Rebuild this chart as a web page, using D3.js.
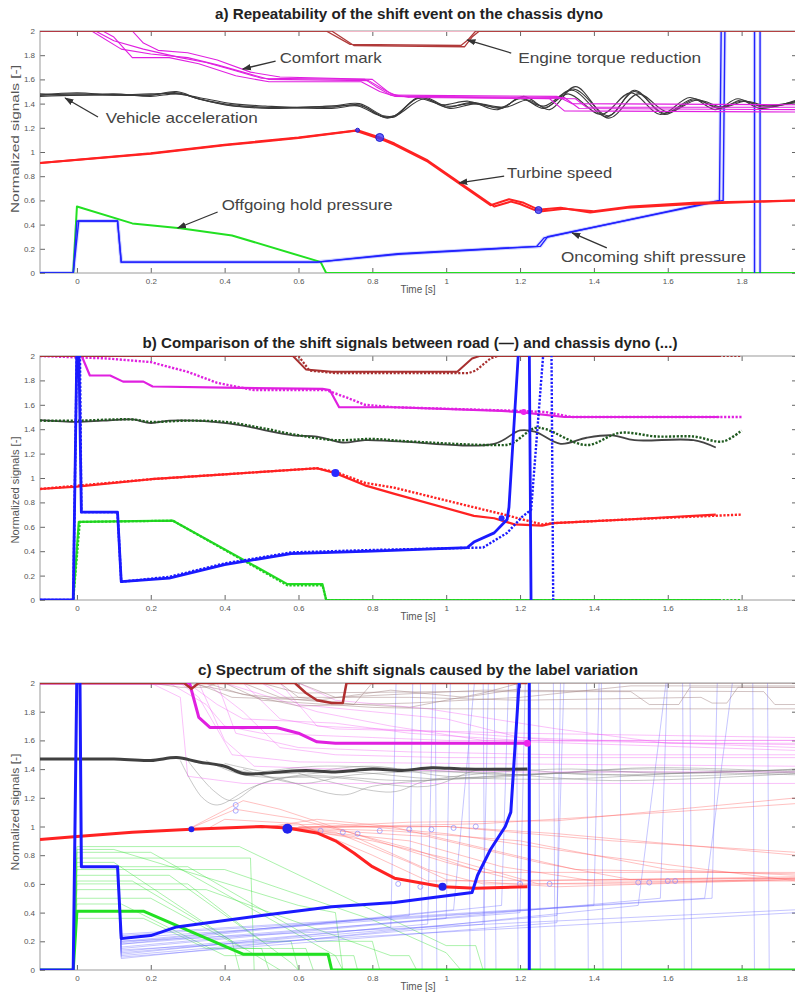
<!DOCTYPE html>
<html>
<head>
<meta charset="utf-8">
<script src="https://cdn.jsdelivr.net/npm/d3@7"></script>
<style>
  body { margin: 0; background: #fff; }
  text { font-family: "Liberation Sans", Arial, sans-serif; }
  .title { font-family: "Liberation Sans Narrow", "Liberation Sans", sans-serif; font-weight: bold; font-size: 14px; fill: #222; }
  .tick text { font-size: 8px; fill: #555; }
  .tick line { stroke: #666; }
  .note { font-size: 15px; fill: #444; }
  .axis-label { font-size: 10px; fill: #555; }
</style>
</head>
<body>
<svg width="795" height="998"></svg>
<script>
const svg = d3.select("svg");

// ---- ticks ----
const xTicks = [0, 0.2, 0.4, 0.6, 0.8, 1, 1.2, 1.4, 1.6, 1.8];
const yTicks = [0, 0.2, 0.4, 0.6, 0.8, 1, 1.2, 1.4, 1.6, 1.8, 2];

// ---- a) repeatability: several runs of each signal [time, value] ----
const comfA1 = [[-0.1,2],[0.05,2],[0.1,1.92],[0.18,1.85],[0.28,1.78],[0.35,1.74],[0.42,1.68],[0.5,1.61],[0.78,1.6],[0.81,1.54],[0.85,1.47],[1.3,1.46],[1.34,1.4],[1.95,1.39]];
const comfA2 = [[-0.1,2],[0.04,2],[0.12,1.85],[0.2,1.81],[0.3,1.78],[0.38,1.72],[0.45,1.66],[0.52,1.6],[0.79,1.59],[0.84,1.5],[0.87,1.46],[1.32,1.45],[1.36,1.36],[1.95,1.35]];
const comfA3 = [[-0.1,2],[0.07,2],[0.1,1.95],[0.15,1.78],[0.25,1.78],[0.33,1.73],[0.43,1.63],[0.52,1.58],[0.77,1.58],[0.82,1.5],[0.86,1.46],[1.28,1.44],[1.32,1.34],[1.95,1.33]];
const comfA4 = [[-0.1,2],[0.15,2],[0.18,1.9],[0.22,1.84],[0.3,1.82],[0.38,1.76],[0.47,1.66],[0.55,1.62],[0.8,1.6],[0.85,1.48],[0.9,1.45],[1.35,1.44],[1.38,1.37],[1.95,1.37]];

const torqA1 = [[-0.1,2],[0.675,2],[0.74,1.89],[1.04,1.88],[1.06,1.93],[1.08,2],[1.95,2]];
const torqA2 = [[-0.1,2],[0.69,2],[0.75,1.88],[1.05,1.87],[1.07,1.95],[1.09,2],[1.95,2]];

const accA1 = [[-0.1,1.47],[0,1.48],[0.1,1.475],[0.2,1.47],[0.27,1.49],[0.33,1.44],[0.42,1.39],[0.51,1.37],[0.69,1.37],[0.765,1.39],[0.83,1.29],[0.86,1.3],[0.93,1.45],[1,1.37],[1.07,1.41],[1.15,1.36],[1.2,1.45],[1.265,1.36],[1.34,1.51],[1.435,1.29],[1.51,1.5],[1.59,1.32],[1.67,1.44],[1.74,1.36],[1.8,1.43],[1.86,1.37],[1.95,1.42]];
const accA2 = [[-0.1,1.48],[0,1.47],[0.1,1.48],[0.2,1.46],[0.27,1.48],[0.33,1.45],[0.42,1.4],[0.51,1.38],[0.69,1.36],[0.76,1.38],[0.82,1.3],[0.86,1.29],[0.92,1.44],[0.99,1.39],[1.06,1.42],[1.14,1.35],[1.21,1.46],[1.28,1.35],[1.35,1.54],[1.44,1.28],[1.52,1.48],[1.6,1.33],[1.68,1.43],[1.75,1.37],[1.81,1.42],[1.87,1.38],[1.95,1.41]];
const accA3 = [[-0.1,1.46],[0,1.47],[0.1,1.47],[0.2,1.48],[0.28,1.48],[0.34,1.43],[0.43,1.38],[0.52,1.36],[0.7,1.38],[0.77,1.38],[0.84,1.28],[0.87,1.31],[0.94,1.44],[1.01,1.36],[1.08,1.4],[1.16,1.37],[1.22,1.43],[1.27,1.37],[1.33,1.48],[1.42,1.31],[1.5,1.49],[1.58,1.31],[1.66,1.45],[1.73,1.35],[1.79,1.44],[1.85,1.36],[1.95,1.43]];
const accA4 = [[-0.1,1.47],[0,1.49],[0.1,1.47],[0.2,1.47],[0.27,1.5],[0.33,1.44],[0.42,1.38],[0.51,1.37],[0.69,1.38],[0.765,1.4],[0.83,1.3],[0.86,1.3],[0.93,1.46],[1,1.38],[1.07,1.4],[1.15,1.37],[1.2,1.44],[1.265,1.38],[1.345,1.52],[1.44,1.3],[1.51,1.51],[1.59,1.31],[1.67,1.43],[1.74,1.37],[1.8,1.42],[1.86,1.38],[1.95,1.42]];

const turbA1 = [[-0.1,0.91],[0.2,0.99],[0.4,1.06],[0.6,1.12],[0.76,1.18],[0.82,1.12],[0.86,1.07],[0.95,0.93],[1.13,0.55],[1.175,0.59],[1.2,0.57],[1.24,0.52],[1.31,0.54],[1.39,0.5],[1.49,0.54],[1.67,0.57],[1.95,0.6]];
const turbA2 = [[-0.1,0.91],[0.2,0.985],[0.4,1.055],[0.6,1.115],[0.755,1.175],[0.82,1.11],[0.86,1.06],[0.95,0.92],[1.12,0.56],[1.17,0.61],[1.21,0.58],[1.26,0.51],[1.32,0.53],[1.4,0.51],[1.5,0.55],[1.67,0.58],[1.95,0.6]];

const oncA1 = [[-0.1,0],[-0.01,0],[0,0.43],[0.11,0.43],[0.12,0.09],[0.65,0.09],[0.87,0.16],[1.245,0.22],[1.265,0.29],[1.74,0.6],[1.745,2.1],[1.835,2.1],[1.835,-0.1]];
const oncA2 = [[-0.1,0],[-0.01,0],[0.005,0.43],[0.11,0.43],[0.12,0.09],[0.65,0.09],[0.87,0.155],[1.255,0.22],[1.275,0.3],[1.75,0.6],[1.755,2.1],[1.85,2.1],[1.85,-0.1]];

const offA = [[-0.1,0],[-0.01,0],[0,0.55],[0.15,0.41],[0.28,0.37],[0.42,0.31],[0.65,0.1],[0.66,0.09],[0.675,0],[1.95,0]];

const markA = [[0.76,1.18,2],[0.82,1.12,4],[1.25,0.52,3.5]];

// annotations: label, text anchor [t, v], arrow tail, arrow tip, text width
const notesA = [
  ["Comfort mark", [0.549,1.777], [0.538,1.752], [0.449,1.686], 102],
  ["Engine torque reduction", [1.195,1.777], [1.176,1.818], [1.057,1.926], 183],
  ["Vehicle acceleration", [0.078,1.281], [0.057,1.289], [-0.032,1.446], 152],
  ["Turbine speed", [1.165,0.826], [1.157,0.8], [1.035,0.744], 105],
  ["Offgoing hold pressure", [0.392,0.562], [0.381,0.504], [0.273,0.372], 171],
  ["Oncoming shift pressure", [1.311,0.132], [1.435,0.207], [1.341,0.331], 185]
];

// ---- b) road (solid) vs chassis dyno (dotted) ----
const comfRoad = [[-0.1,2],[0.013,2],[0.035,1.84],[0.09,1.84],[0.125,1.79],[0.18,1.79],[0.205,1.75],[0.4,1.74],[0.665,1.73],[0.685,1.72],[0.71,1.58],[0.86,1.58],[1.15,1.55],[1.2,1.54],[1.32,1.5],[1.74,1.5]];
const comfDyno = [[-0.1,2],[0.08,1.98],[0.2,1.95],[0.3,1.87],[0.38,1.78],[0.48,1.72],[0.675,1.72],[0.73,1.66],[0.78,1.6],[0.86,1.58],[1.2,1.55],[1.27,1.54],[1.34,1.5],[1.8,1.5]];
const torqRoad = [[-0.1,2],[0.585,2],[0.62,1.89],[0.69,1.87],[1.03,1.87],[1.07,1.98],[1.09,2],[1.74,2]];
const torqDyno = [[-0.1,2],[0.6,2],[0.63,1.88],[0.7,1.86],[1.06,1.86],[1.08,1.88],[1.12,1.98],[1.14,2],[1.8,2]];
const accRoad = [[-0.1,1.475],[0,1.46],[0.07,1.47],[0.15,1.48],[0.2,1.45],[0.25,1.47],[0.37,1.46],[0.45,1.43],[0.51,1.39],[0.585,1.35],[0.65,1.34],[0.72,1.29],[0.78,1.31],[0.87,1.3],[1.13,1.28],[1.2,1.39],[1.24,1.38],[1.31,1.28],[1.38,1.33],[1.45,1.35],[1.51,1.31],[1.67,1.31],[1.73,1.25]];
const accDyno = [[-0.1,1.47],[0,1.47],[0.15,1.48],[0.2,1.46],[0.3,1.47],[0.4,1.46],[0.5,1.41],[0.6,1.35],[0.7,1.31],[0.8,1.32],[0.9,1.3],[1.13,1.27],[1.175,1.28],[1.24,1.41],[1.27,1.4],[1.38,1.27],[1.47,1.37],[1.57,1.34],[1.67,1.34],[1.75,1.3],[1.8,1.39]];
const turbRoad = [[-0.1,0.91],[0,0.93],[0.2,0.99],[0.4,1.03],[0.65,1.08],[0.7,1.04],[0.78,0.94],[0.86,0.87],[1.075,0.69],[1.13,0.67],[1.185,0.62],[1.26,0.61],[1.29,0.63],[1.49,0.66],[1.73,0.7]];
const turbDyno = [[-0.1,0.91],[0.2,0.99],[0.4,1.03],[0.65,1.08],[0.7,1.05],[0.78,0.96],[0.86,0.92],[1.075,0.76],[1.157,0.7],[1.22,0.65],[1.26,0.62],[1.29,0.63],[1.49,0.66],[1.8,0.7]];
const oncRoad = [[-0.1,0],[-0.01,0],[0,2.1],[0.005,2.1],[0.012,0.72],[0.11,0.72],[0.12,0.15],[0.25,0.18],[0.4,0.29],[0.58,0.38],[0.8,0.4],[1.057,0.43],[1.075,0.475],[1.13,0.55],[1.165,0.66],[1.17,0.76],[1.197,2.1],[1.225,2.1],[1.23,-0.1]];
const oncDyno = [[-0.1,0],[-0.01,0],[0,2.1],[0.008,2.1],[0.012,0.72],[0.11,0.72],[0.12,0.15],[0.25,0.19],[0.4,0.3],[0.58,0.39],[0.8,0.41],[1.1,0.43],[1.165,0.55],[1.205,0.68],[1.23,0.74],[1.265,2.1],[1.285,2.1],[1.29,-0.1]];
const offRoad = [[-0.1,0],[-0.01,0],[0.005,0.64],[0.26,0.65],[0.57,0.13],[0.665,0.13],[0.675,0],[1.74,0]];
const offDyno = [[-0.1,0],[-0.01,0],[0.008,0.64],[0.26,0.65],[0.57,0.12],[0.665,0.12],[0.675,0],[1.8,0]];
const markB = [[0.7,1.04,4,"#2a2aff"],[1.15,0.67,3,"#2a2aff"],[1.21,1.54,3,"#ee22ee"]];

// ---- c) spectrum caused by label variation ----
const torqC = [[-0.1,2],[0.29,2],[0.31,1.96],[0.33,2],[0.59,2],[0.62,1.93],[0.65,1.88],[0.69,1.86],[0.72,1.86],[0.73,2],[1.22,2]];
const comfC = [[-0.1,2],[0.305,2],[0.33,1.76],[0.36,1.69],[0.54,1.69],[0.6,1.65],[0.65,1.59],[0.7,1.58],[1.22,1.58]];
const accC = [[-0.1,1.47],[0,1.47],[0.1,1.47],[0.2,1.46],[0.27,1.48],[0.33,1.45],[0.4,1.42],[0.45,1.37],[0.5,1.37],[0.55,1.38],[0.62,1.39],[0.7,1.38],[0.8,1.4],[0.88,1.39],[0.96,1.41],[1.05,1.4],[1.22,1.4]];
const turbC = [[-0.1,0.91],[0,0.93],[0.15,0.96],[0.31,0.98],[0.5,1],[0.57,0.99],[0.65,0.955],[0.7,0.9],[0.75,0.815],[0.8,0.72],[0.86,0.64],[0.99,0.58],[1.08,0.57],[1.22,0.58]];
const oncC = [[-0.1,0],[-0.01,0],[0,2.1],[0.008,2.1],[0.012,0.72],[0.11,0.72],[0.12,0.22],[0.2,0.24],[0.27,0.3],[0.5,0.38],[0.69,0.44],[0.86,0.47],[1.07,0.54],[1.085,0.66],[1.12,0.84],[1.16,1],[1.175,1.1],[1.2,2.1],[1.225,2.1],[1.225,-0.1]];
const offC = [[-0.1,0],[-0.01,0],[0,0.41],[0.18,0.41],[0.45,0.11],[0.68,0.11],[0.69,0],[1.95,0]];
const markC = [[0.31,0.98,3,"#2222ee"],[0.57,0.985,5,"#2222ee"],[0.99,0.58,4,"#2222ee"],[1.22,1.58,3.5,"#ee22ee"]];
const markCLight = [[0.43,1.15],[0.43,1.11],[0.66,0.97],[0.72,0.96],[0.76,0.95],[0.82,0.97],[0.9,0.98],[0.96,0.98],[1.02,0.99],[1.08,1],[0.87,0.6],[0.93,0.58],[1.2,0.6],[1.28,0.6],[1.52,0.61],[1.55,0.61],[1.6,0.62],[1.62,0.62]];

const specBrown = [
  [[-0.1,2],[0.55,2],[0.6,1.9],[0.75,1.85],[0.8,2],[1.95,2]],
  [[0.35,2],[0.45,1.92],[0.7,1.86],[0.9,1.83],[1.1,1.93],[1.2,2]],
  [[0.4,2],[0.5,1.88],[0.8,1.83],[1,1.82],[1.3,1.82],[1.95,1.82]],
  [[0.5,2],[0.6,1.93],[1,1.94],[1.5,1.94],[1.55,1.85],[1.63,1.85],[1.66,1.97],[1.95,1.97]],
  [[0.45,2],[0.55,1.9],[0.9,1.9],[1.2,1.88],[1.69,1.9],[1.72,1.86],[1.76,1.86],[1.79,1.97],[1.95,1.97]],
  [[0.6,2],[0.7,1.9],[1.1,1.95],[1.86,1.94],[1.89,1.85],[1.95,1.85]],
  [[0.3,2],[0.4,1.95],[0.6,1.84],[0.9,1.86],[1.2,1.9],[1.5,1.98],[1.95,1.98]],
  [[0.2,2],[0.28,1.97],[0.35,1.97],[0.38,2],[1.95,2]],
  [[0.32,2],[0.42,1.9],[0.65,1.88],[0.85,1.95],[1.05,1.9],[1.2,1.96]]
];
const specPink = [
  [[-0.1,2],[0.2,2],[0.28,1.9],[0.3,1.35],[0.45,1.3],[1.95,1.3]],
  [[0.25,2],[0.35,1.85],[0.4,1.7],[0.5,1.65],[0.8,1.62],[1,1.6],[1.95,1.6]],
  [[0.3,2],[0.38,1.85],[0.45,1.75],[0.7,1.72],[0.9,1.65],[1.2,1.6],[1.95,1.57]],
  [[0.35,2],[0.45,1.8],[0.55,1.55],[0.7,1.5],[1,1.48],[1.95,1.48]],
  [[0.4,2],[0.5,1.92],[0.65,1.8],[0.85,1.7],[1.1,1.6],[1.95,1.53]],
  [[0.33,2],[0.4,1.6],[0.48,1.42],[0.7,1.4],[1.2,1.38],[1.95,1.38]],
  [[0.45,2],[0.55,1.75],[0.7,1.68],[1,1.66],[1.3,1.6],[1.95,1.6]],
  [[0.5,2],[0.6,1.85],[0.8,1.8],[1,1.75],[1.2,1.62],[1.95,1.55]],
  [[0.28,2],[0.33,1.9],[0.42,1.5],[0.6,1.45],[1,1.44],[1.95,1.42]],
  [[0.6,2],[0.7,1.88],[0.95,1.82],[1.3,1.68],[1.6,1.58],[1.95,1.58]],
  [[0.38,2],[0.43,1.65],[0.6,1.55],[0.9,1.52],[1.3,1.5],[1.95,1.5]],
  [[0.55,2],[0.65,1.7],[0.9,1.67],[1.2,1.65],[1.95,1.62]]
];
const specGray = [
  [[0.28,1.46],[0.34,1.2],[0.38,1.15],[0.48,1.28],[0.6,1.35],[0.9,1.32],[1.3,1.37],[1.6,1.35],[1.95,1.38]],
  [[0.3,1.46],[0.37,1.25],[0.42,1.18],[0.5,1.3],[0.7,1.38],[1,1.33],[1.5,1.4],[1.95,1.37]],
  [[0.35,1.46],[0.45,1.36],[0.7,1.34],[0.95,1.28],[1.1,1.4],[1.4,1.36],[1.95,1.4]],
  [[0.4,1.44],[0.55,1.37],[0.8,1.42],[1,1.35],[1.3,1.33],[1.7,1.38],[1.95,1.39]],
  [[0.45,1.4],[0.6,1.3],[0.75,1.36],[1.05,1.38],[1.45,1.32],[1.95,1.37]],
  [[0.5,1.38],[0.65,1.42],[0.9,1.4],[1.2,1.36],[1.55,1.41],[1.95,1.38]],
  [[0.42,1.4],[0.55,1.33],[0.72,1.22],[0.8,1.28],[1,1.33],[1.4,1.38],[1.95,1.36]],
  [[0.6,1.37],[0.85,1.24],[0.95,1.32],[1.3,1.4],[1.6,1.37],[1.95,1.4]]
];
const specRed = [
  [[0.3,0.98],[0.45,1.18],[0.55,1.12],[0.75,0.95],[1,0.75],[1.2,0.62],[1.95,0.65]],
  [[0.3,0.98],[0.43,1.12],[0.6,1.05],[0.9,0.85],[1.1,0.68],[1.95,0.68]],
  [[0.57,0.99],[0.8,0.9],[1,0.78],[1.25,0.6],[1.95,0.63]],
  [[0.57,0.99],[0.9,1.03],[1.3,1.04],[1.95,1.2]],
  [[0.57,0.99],[1,1],[1.3,0.95],[1.95,0.8]],
  [[0.57,0.99],[0.85,0.97],[1.2,0.9],[1.6,0.7],[1.95,0.66]],
  [[0.45,1],[0.7,1.02],[1,0.95],[1.4,0.8],[1.95,0.62]],
  [[0.5,1],[0.75,0.93],[0.95,0.7],[1.1,0.6],[1.5,0.6],[1.95,0.64]],
  [[0.57,0.99],[0.7,0.96],[0.9,0.75],[1,0.63],[1.3,0.58],[1.95,0.63]],
  [[0.6,1],[1,1],[1.45,0.9],[1.95,0.82]],
  [[0.57,0.99],[0.95,0.93],[1.25,0.75],[1.5,0.63],[1.95,0.64]],
  [[0.5,0.99],[0.65,1.05],[0.85,1],[1.1,0.85],[1.35,0.7],[1.95,0.67]],
  [[0.35,0.98],[0.4,1.05],[0.6,1.02],[0.8,0.8],[0.95,0.62],[1.95,0.64]],
  [[0.57,0.99],[1.1,1.02],[1.6,1.1],[1.95,1.16]],
  [[0.6,0.98],[0.9,0.9],[1.15,0.72],[1.4,0.62],[1.95,0.62]]
];
const specGreen = [
  [[-0.01,0],[0,0.86],[0.44,0.86],[1,0.17],[1.08,0.17],[1.1,0]],
  [[-0.01,0],[0,0.82],[0.2,0.82],[0.7,0.1],[0.75,0.1],[0.76,0]],
  [[-0.01,0],[0,0.78],[0.47,0.78],[0.48,0]],
  [[-0.01,0],[0,0.72],[0.3,0.72],[0.65,0.2],[0.8,0.2],[0.82,0]],
  [[-0.01,0],[0,0.66],[0.25,0.66],[0.5,0.2],[0.58,0.2],[0.6,0]],
  [[-0.01,0],[0,0.62],[0.15,0.62],[0.55,0]],
  [[-0.01,0],[0,0.56],[0.35,0.56],[0.85,0.1],[0.9,0.1],[0.92,0]],
  [[-0.01,0],[0,0.5],[0.2,0.5],[0.45,0.15],[0.5,0.15],[0.52,0]],
  [[-0.01,0],[0,0.46],[0.12,0.46],[0.4,0.1],[0.7,0.1],[0.72,0]],
  [[-0.01,0],[0,0.36],[0.18,0.36],[0.35,0.15],[0.62,0.15],[0.64,0]],
  [[-0.01,0],[0,0.7],[0.4,0.7],[0.8,0.35],[1,0.12],[1.04,0]],
  [[-0.01,0],[0,0.6],[0.3,0.6],[0.45,0.3],[0.58,0.05],[0.6,0]],
  [[-0.01,0],[0,0.84],[0.1,0.84],[0.6,0.45],[0.7,0.4],[0.72,0]],
  [[-0.01,0],[0,0.75],[0.1,0.75],[0.42,0.2],[0.44,0]]
];
const specBlue = [
  [[0.11,0.72],[0.12,0.2],[0.9,0.38],[0.91,2.1],[0.97,2.1],[0.975,-0.1]],
  [[0.11,0.72],[0.12,0.15],[1,0.36],[1.012,2.1],[1.1,2.1],[1.105,-0.1]],
  [[0.11,0.72],[0.12,0.1],[1.1,0.32],[1.115,2.1],[1.19,2.1],[1.195,-0.1]],
  [[0.11,0.72],[0.12,0.18],[1.2,0.4],[1.215,2.1],[1.29,2.1],[1.295,-0.1]],
  [[0.11,0.72],[0.12,0.12],[1.3,0.38],[1.32,2.1],[1.42,2.1],[1.425,-0.1]],
  [[0.11,0.72],[0.12,0.22],[1.4,0.45],[1.415,2.1],[1.47,2.1],[1.475,-0.1]],
  [[0.11,0.72],[0.12,0.08],[1.52,0.45],[1.6,2.1],[1.66,2.1],[1.665,-0.1]],
  [[0.11,0.72],[0.12,0.16],[1.58,0.5],[1.6,2.1],[1.64,2.1],[1.645,-0.1]],
  [[0.11,0.72],[0.12,0.25],[1.7,0.5],[1.78,2.1],[1.83,2.1],[1.835,-0.1]],
  [[0.11,0.72],[0.12,0.14],[1.95,0.4]],
  [[0.11,0.72],[0.12,0.2],[1.95,0.42]],
  [[0.11,0.72],[0.12,0.11],[0.85,0.3],[0.865,2.1],[0.93,2.1],[0.935,-0.1]],
  [[0.11,0.72],[0.12,0.18],[1.15,0.45],[1.17,2.1],[1.25,2.1],[1.255,-0.1]],
  [[0.11,0.72],[0.12,0.24],[1.72,0.5],[1.735,2.1],[1.87,2.1],[1.875,-0.1]],
  [[0.11,0.72],[0.12,0.13],[0.95,0.32],[0.965,2.1],[1.06,2.1],[1.065,-0.1]],
  [[0.11,0.72],[0.12,0.09],[1.3,0.33],[1.31,2.1],[1.38,2.1],[1.385,-0.1]],
  [[0.11,0.72],[0.12,0.19],[1.02,0.42],[1.08,2.1],[1.13,2.1],[1.135,-0.1]]
];

// ---- layout ----
const x = d3.scaleLinear().domain([-0.1, 1.95]).range([40, 797]);
const panels = {
  a: { top: 31, bottom: 273, title: "a) Repeatability of the shift event on the chassis dyno", titleX: 409, titleY: 14, titleW: 388, labelY: 139, labelW: 148 },
  b: { top: 356, bottom: 600, title: "b) Comparison of the shift signals between road (\u2014) and chassis dyno (...)", titleX: 410, titleY: 343, titleW: 535, labelY: 490, labelW: 107 },
  c: { top: 683, bottom: 970, title: "c) Spectrum of the shift signals caused by the label variation", titleX: 418, titleY: 670, titleW: 440, labelY: 812, labelW: 117 }
};

const fmt = d => String(+d.toFixed(1));

svg.append("defs").append("marker")
  .attr("id", "arrow")
  .attr("viewBox", "0 0 10 10")
  .attr("refX", 9).attr("refY", 5)
  .attr("markerWidth", 7).attr("markerHeight", 7)
  .attr("orient", "auto")
  .append("path").attr("d", "M0,1.5 L10,5 L0,8.5 z").attr("fill", "#333");

const setup = (key) => {
  const p = panels[key];
  const y = d3.scaleLinear().domain([0, 2]).range([p.bottom, p.top]);
  const g = svg.append("g");

  svg.select("defs").append("clipPath").attr("id", "clip-" + key)
    .append("rect").attr("x", x.range()[0]).attr("y", p.top)
    .attr("width", x.range()[1] - x.range()[0]).attr("height", p.bottom - p.top);

  g.append("g").attr("transform", `translate(0,${p.bottom})`)
    .call(d3.axisBottom(x).tickValues(xTicks).tickSize(-5).tickPadding(5).tickFormat(fmt))
    .call(a => a.select(".domain").remove());
  g.append("g").attr("transform", `translate(0,${p.top})`)
    .call(d3.axisTop(x).tickValues(xTicks).tickSize(-5).tickFormat(""))
    .call(a => a.select(".domain").remove());
  g.append("g").attr("transform", `translate(${x.range()[0]},0)`)
    .call(d3.axisLeft(y).tickValues(yTicks).tickSize(-5).tickPadding(5).tickFormat(fmt))
    .call(a => a.select(".domain").remove());
  g.append("g").attr("transform", `translate(${x.range()[1]},0)`)
    .call(d3.axisRight(y).tickValues(yTicks).tickSize(-5).tickFormat(""))
    .call(a => a.select(".domain").remove());

  g.append("rect")
    .attr("x", x.range()[0]).attr("y", p.top)
    .attr("width", x.range()[1] - x.range()[0]).attr("height", p.bottom - p.top)
    .attr("fill", "none").attr("stroke", "#9a9a9a");

  g.append("text").attr("class", "title")
    .attr("x", p.titleX).attr("y", p.titleY).attr("dy", "0.35em")
    .attr("text-anchor", "middle")
    .attr("textLength", p.titleW).attr("lengthAdjust", "spacingAndGlyphs")
    .text(p.title);

  g.append("text").attr("class", "axis-label")
    .attr("x", 418).attr("y", p.bottom + 16).attr("dy", "0.35em")
    .attr("text-anchor", "middle")
    .text("Time [s]");

  g.append("text").attr("class", "axis-label")
    .attr("transform", `translate(15,${p.labelY}) rotate(-90)`)
    .attr("dy", "0.35em").attr("text-anchor", "middle")
    .attr("textLength", p.labelW).attr("lengthAdjust", "spacingAndGlyphs")
    .text("Normalized signals [-]");

  const plot = svg.append("g").attr("clip-path", `url(#clip-${key})`);
  return { y, plot };
};

const draw = (layer, y, pts, color, width, opts = {}) =>
  layer.append("path").datum(pts)
    .attr("fill", "none")
    .attr("stroke", color)
    .attr("stroke-width", width)
    .attr("stroke-opacity", opts.opacity || 1)
    .attr("stroke-dasharray", opts.dash || null)
    .attr("stroke-linejoin", "round")
    .attr("d", d3.line().x(d => x(d[0])).y(d => y(d[1])).curve(opts.curve || d3.curveLinear));

const smooth = d3.curveCatmullRom.alpha(0.5);

// ---- panel a ----
{
  const { y, plot } = setup("a");
  draw(plot, y, [[-0.1, 2], [1.95, 2]], "#f4b8c8", 2);
  [oncA1, oncA2].forEach(d => draw(plot, y, d, "#9fa6ff", 3.5, { opacity: 0.35 }));
  draw(plot, y, offA, "#22e022", 2);
  [oncA1, oncA2].forEach(d => draw(plot, y, d, "#2222ff", 1.4));
  [turbA1, turbA2].forEach(d => draw(plot, y, d, "#ff2222", 2));
  [accA1, accA2, accA3, accA4].forEach(d => draw(plot, y, d, "#3a3a3a", 1.1, { curve: smooth }));
  [comfA1, comfA2, comfA3, comfA4].forEach(d => draw(plot, y, d, "#e020e0", 1.1));
  [torqA1, torqA2].forEach(d => draw(plot, y, d, "#b03a3a", 1.3));

  plot.selectAll(".mk").data(markA).join("circle")
    .attr("cx", d => x(d[0])).attr("cy", d => y(d[1])).attr("r", d => d[2])
    .attr("fill", "#3a3aff").attr("fill-opacity", 0.8).attr("stroke", "#2222cc");

  const notes = svg.append("g");
  notes.selectAll("line").data(notesA).join("line")
    .attr("x1", d => x(d[2][0])).attr("y1", d => y(d[2][1]))
    .attr("x2", d => x(d[3][0])).attr("y2", d => y(d[3][1]))
    .attr("stroke", "#333").attr("stroke-width", 1.3)
    .attr("marker-end", "url(#arrow)");
  notes.selectAll("text").data(notesA).join("text")
    .attr("class", "note")
    .attr("x", d => x(d[1][0])).attr("y", d => y(d[1][1])).attr("dy", "0.35em")
    .attr("textLength", d => d[4]).attr("lengthAdjust", "spacingAndGlyphs")
    .text(d => d[0]);
}

// ---- panel b ----
{
  const { y, plot } = setup("b");
  const dot = "2.2,1.6";
  draw(plot, y, offRoad, "#22e022", 2.2);
  draw(plot, y, offDyno, "#22cc22", 2.2, { dash: dot });
  draw(plot, y, turbRoad, "#ff2222", 2.2);
  draw(plot, y, turbDyno, "#ff2222", 2.4, { dash: dot });
  draw(plot, y, accRoad, "#444", 1.8, { curve: smooth });
  draw(plot, y, accDyno, "#1f5a1f", 2.4, { dash: dot, curve: smooth });
  draw(plot, y, comfRoad, "#e020e0", 2.2);
  draw(plot, y, comfDyno, "#e020e0", 2.4, { dash: dot });
  draw(plot, y, torqRoad, "#a83030", 2);
  draw(plot, y, torqDyno, "#a83030", 2.2, { dash: dot });
  draw(plot, y, oncRoad, "#1a1aff", 2.8);
  draw(plot, y, oncDyno, "#1a1aff", 2.4, { dash: dot });
  plot.selectAll(".mk").data(markB).join("circle")
    .attr("cx", d => x(d[0])).attr("cy", d => y(d[1])).attr("r", d => d[2])
    .attr("fill", d => d[3]);
}

// ---- panel c ----
{
  const { y, plot } = setup("c");
  specGreen.forEach(d => draw(plot, y, d, "#40e040", 0.8, { opacity: 0.55 }));
  specBlue.forEach(d => draw(plot, y, d, "#6060ff", 0.8, { opacity: 0.45 }));
  specRed.forEach(d => draw(plot, y, d, "#ff5050", 0.8, { opacity: 0.45 }));
  specGray.forEach(d => draw(plot, y, d, "#808080", 0.8, { opacity: 0.55, curve: smooth }));
  specPink.forEach(d => draw(plot, y, d, "#f050f0", 0.8, { opacity: 0.45 }));
  specBrown.forEach(d => draw(plot, y, d, "#a08080", 0.8, { opacity: 0.6 }));
  plot.selectAll(".lm").data(markCLight).join("circle")
    .attr("cx", d => x(d[0])).attr("cy", d => y(d[1])).attr("r", 2.5)
    .attr("fill", "none").attr("stroke", "#8a8aff").attr("stroke-opacity", 0.7);

  draw(plot, y, offC, "#22e022", 3);
  draw(plot, y, turbC, "#ff2222", 3);
  draw(plot, y, accC, "#404040", 3, { curve: smooth });
  draw(plot, y, comfC, "#e020e0", 3);
  draw(plot, y, torqC, "#b03030", 2.5);
  draw(plot, y, oncC, "#1a1aff", 3);
  plot.selectAll(".mk").data(markC).join("circle")
    .attr("cx", d => x(d[0])).attr("cy", d => y(d[1])).attr("r", d => d[2])
    .attr("fill", d => d[3]);
}
</script>
</body>
</html>
